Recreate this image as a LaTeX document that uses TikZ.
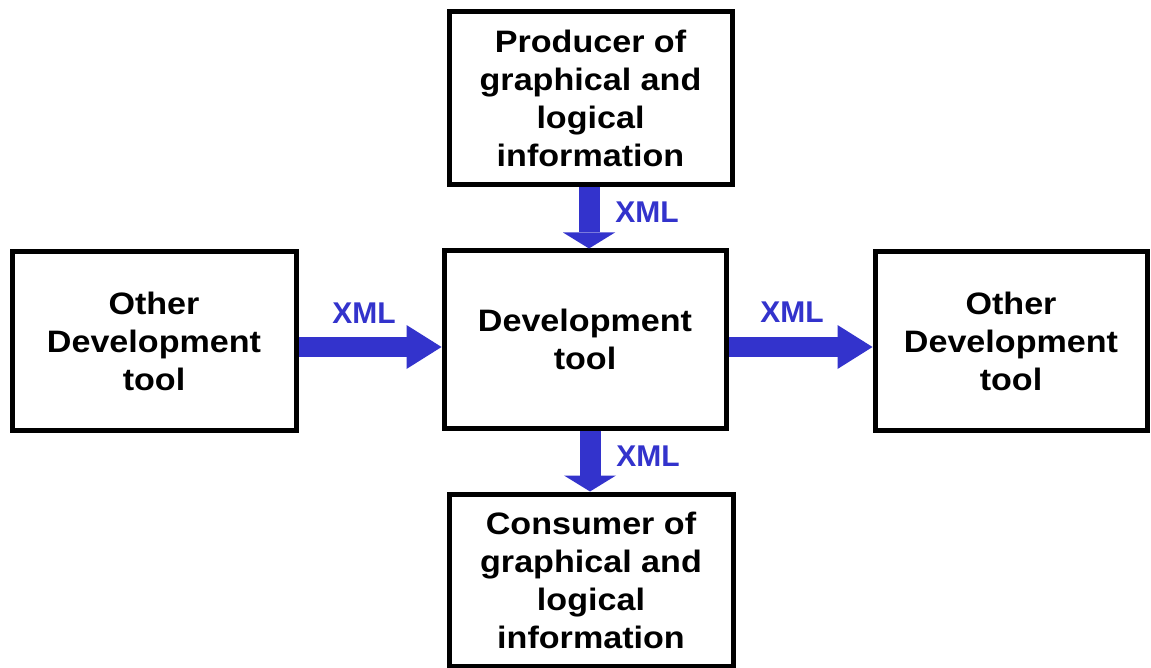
\documentclass[tikz,border=0pt]{standalone}
\usepackage{fontspec}
\setmainfont{Liberation Sans}
\newfontfamily\boxfont{Liberation Sans}[FakeStretch=1.1]
\newfontfamily\xmlfont{Liberation Sans}
\usetikzlibrary{arrows.meta}
\definecolor{arrowblue}{RGB}{51,51,204}
\begin{document}
\begin{tikzpicture}[x=1pt,y=-1pt,
  box/.style={draw=black, line width=5pt, inner sep=0pt, align=center,
    font={\boxfont\bfseries\fontsize{31}{38}\selectfont}},
  harrow/.style={draw=arrowblue, line width=20pt,
    -{Triangle[length=35pt,width=44pt,line width=0pt]}},
  varrow/.style={draw=arrowblue, line width=21pt,
    -{Triangle[length=16pt,width=52pt,line width=0pt]}},
  xmllabel/.style={text=arrowblue, inner sep=0pt,
    font={\xmlfont\bfseries\fontsize{30}{36}\selectfont}}]

\useasboundingbox (0,0) rectangle (1151,668);
\fill[white] (0,0) rectangle (1151,668);

\node[box, minimum width=283pt, minimum height=173pt] (top) at (590.5,98.5)
  {Producer of\\graphical and\\logical\\information};
\node[box, minimum width=282pt, minimum height=177pt] (center) at (585,339.5)
  {Development\\tool};
\node[box, minimum width=284pt, minimum height=178pt] (left) at (154,341)
  {Other\\Development\\tool};
\node[box, minimum width=272pt, minimum height=178pt] (right) at (1011,341)
  {Other\\Development\\tool};
\node[box, minimum width=284pt, minimum height=172pt] (bottom) at (591,580)
  {Consumer of\\graphical and\\logical\\information};

\draw[harrow] ([yshift=-6pt]left.east) -- ([yshift=-6pt]left.east -| center.west);
\draw[harrow] ([yshift=-7.5pt]center.east) -- ([yshift=-7.5pt]center.east -| right.west);
\draw[varrow] ([xshift=-1.5pt]top.south) -- ([xshift=-1.5pt]top.south |- center.north);
\draw[varrow] ([xshift=5pt]center.south) -- ([xshift=5pt]center.south |- bottom.north);

\node[xmllabel] (xmltop) at (647,212) {XML};
\node[xmllabel] (xmlbottom) at (648,456) {XML};
\node[xmllabel] (xmlleft) at (364,313.5) {XML};
\node[xmllabel] (xmlright) at (792,312.5) {XML};
\end{tikzpicture}
\end{document}
